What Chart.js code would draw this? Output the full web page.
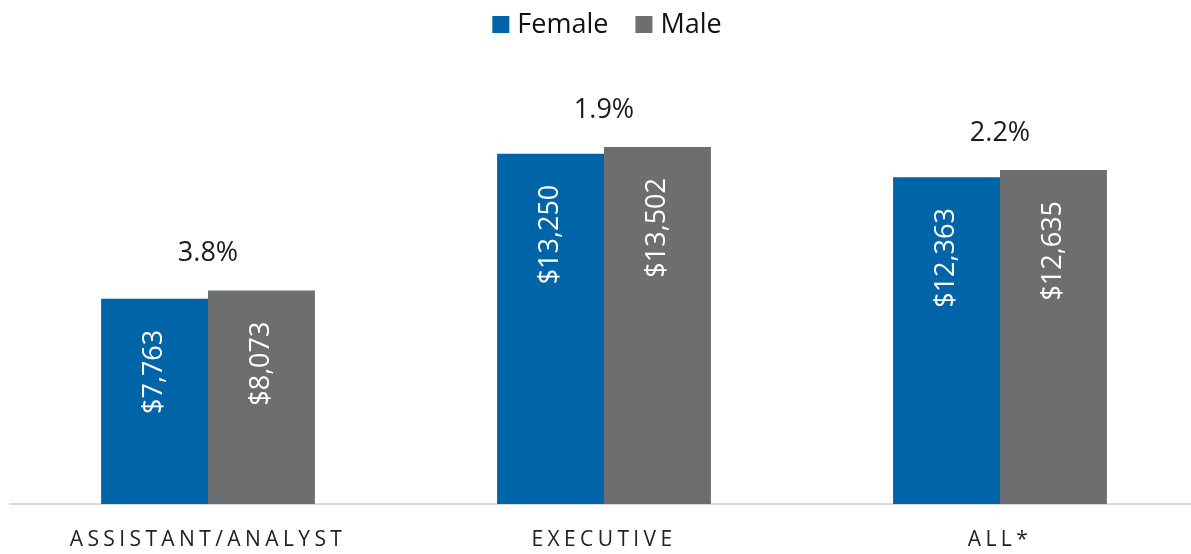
<!DOCTYPE html>
<html>
<head>
<meta charset="utf-8">
<script src="https://cdn.jsdelivr.net/npm/chart.js@4"></script>
<style>
    html, body { margin: 0; padding: 0; background: #fff; overflow: hidden; }
    #wrap { width: 1198px; height: 554px; }
</style>
</head>
<body>
<div id="wrap"><canvas id="chart1"></canvas></div>
<script>
// Chart data
const categories = ['ASSISTANT/ANALYST', 'EXECUTIVE', 'ALL*'];
const femaleValues = [7763, 13250, 12363];
const maleValues = [8073, 13502, 12635];
const gapLabels = ['3.8%', '1.9%', '2.2%'];

const FONT = "'Open Sans', 'DejaVu Sans', sans-serif";

// Draws legend, value labels, gap percentages and spaced category labels
const labelPlugin = {
    id: 'labelPlugin',
    afterDatasetsDraw(chart) {
        const ctx = chart.ctx;
        const xScale = chart.scales.x;

        // legend (centered a bit right of the middle, like the original)
        ctx.save();
        ctx.font = '27px ' + FONT;
        ctx.textBaseline = 'middle';
        ctx.textAlign = 'left';
        const items = chart.data.datasets.map(function(ds) {
            return { text: ds.label, color: ds.backgroundColor, w: ctx.measureText(ds.label).width };
        });
        let total = 0;
        items.forEach(function(it, i) { total += 17 + 8 + it.w + (i > 0 ? 27 : 0); });
        let lx = chart.width / 2 + 8 - total / 2;
        items.forEach(function(it) {
            ctx.fillStyle = it.color;
            ctx.fillRect(lx, 16, 17, 17);
            ctx.fillStyle = '#111111';
            ctx.fillText(it.text, lx + 25, 25);
            lx += 17 + 8 + it.w + 27;
        });
        ctx.restore();

        // values inside bars, rotated
        chart.data.datasets.forEach(function(ds, di) {
            const meta = chart.getDatasetMeta(di);
            meta.data.forEach(function(bar, i) {
                ctx.save();
                ctx.translate(bar.x, bar.y + 31);
                ctx.rotate(-Math.PI / 2);
                ctx.font = '27px ' + FONT;
                ctx.fillStyle = '#ffffff';
                ctx.textAlign = 'right';
                ctx.textBaseline = 'middle';
                ctx.fillText('$' + ds.data[i].toLocaleString('en-US'), 0, 0);
                ctx.restore();
            });
        });

        // gap % above each pair
        const m0 = chart.getDatasetMeta(0);
        const m1 = chart.getDatasetMeta(1);
        gapLabels.forEach(function(txt, i) {
            const top = Math.min(m0.data[i].y, m1.data[i].y);
            ctx.save();
            ctx.font = '27px ' + FONT;
            ctx.fillStyle = '#1a1a1a';
            ctx.textAlign = 'center';
            ctx.textBaseline = 'middle';
            ctx.fillText(txt, xScale.getPixelForValue(i), top - 37);
            ctx.restore();
        });

        // category labels with letter spacing
        categories.forEach(function(cat, i) {
            ctx.save();
            ctx.font = '21px ' + FONT;
            ctx.letterSpacing = '4.4px';
            ctx.fillStyle = '#222222';
            ctx.textAlign = 'center';
            ctx.textBaseline = 'middle';
            ctx.fillText(cat, xScale.getPixelForValue(i), 540);
            ctx.restore();
        });
    }
};

document.addEventListener('DOMContentLoaded', function() {
    const ctx = document.getElementById('chart1').getContext('2d');
    const payChart = new Chart(ctx, {
        type: 'bar',
        data: {
            labels: categories,
            datasets: [{
                label: 'Female',
                data: femaleValues,
                backgroundColor: '#0064a8',
                categoryPercentage: 0.54,
                barPercentage: 1.0
            }, {
                label: 'Male',
                data: maleValues,
                backgroundColor: '#6d6e70',
                categoryPercentage: 0.54,
                barPercentage: 1.0
            }]
        },
        options: {
            responsive: true,
            maintainAspectRatio: false,
            animation: false,
            layout: {
                padding: { left: 10, right: 0, top: 81, bottom: 0 }
            },
            plugins: {
                legend: { display: false },
                tooltip: { enabled: false }
            },
            scales: {
                x: {
                    grid: { display: false, drawTicks: false },
                    border: { display: true, color: '#d9d9d9', width: 2 },
                    ticks: { display: false },
                    afterFit: function(scale) { scale.height = 50; }
                },
                y: {
                    display: false,
                    min: 0,
                    max: 16000
                }
            }
        },
        plugins: [labelPlugin]
    });
});
</script>
</body>
</html>
